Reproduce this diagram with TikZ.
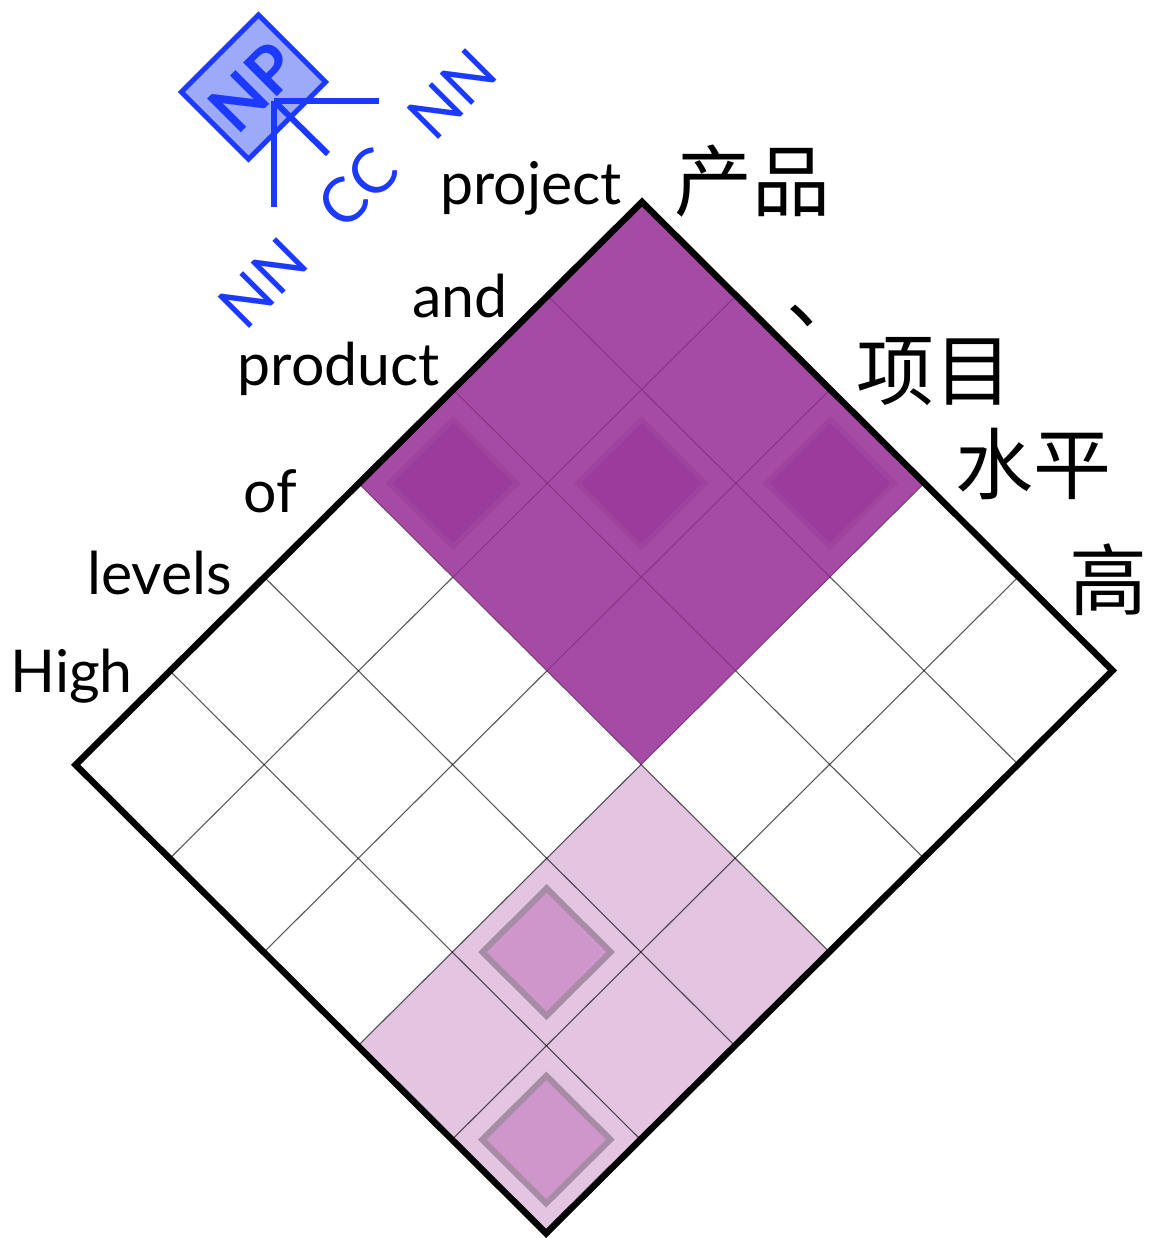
\documentclass[tikz,border=0pt]{standalone}
\usepackage{fontspec}
\newfontfamily\latin{Lato}
\newfontfamily\cjk{Noto Sans CJK SC}
\usetikzlibrary{calc}
\definecolor{treeblue}{RGB}{28,58,255}
\definecolor{npfill}{RGB}{157,170,250}
\definecolor{darkcell}{RGB}{151,44,149}
\definecolor{darkin}{RGB}{155,60,155}
\definecolor{darkinb}{RGB}{160,67,160}
\definecolor{lightcell}{RGB}{227,196,225}
\definecolor{lightin}{RGB}{206,150,203}
\definecolor{lightinb}{RGB}{168,140,166}
\newcommand\innerdia[5]{%
  \coordinate (cc) at ($(g#1#2)!0.5!(g#3#4)$);
  \draw[#5] ($(cc)!0.68!(g#1#2)$) -- ($(cc)!0.68!(g#3#2)$) -- ($(cc)!0.68!(g#3#4)$) -- ($(cc)!0.68!(g#1#4)$) -- cycle;}
\begin{document}
\begin{tikzpicture}[x=1pt,y=-1pt,
  enlabel/.style={font=\latin\fontsize{59}{62}\selectfont, anchor=base east, inner sep=0pt},
  zhlabel/.style={font=\cjk\fontsize{78}{80}\selectfont, inner sep=0pt},
  treelabel/.style={font=\latin\fontsize{62}{66}\selectfont, text=treeblue, rotate=45, inner sep=0pt},
  treeedge/.style={draw=treeblue, line width=6pt},
  npbox/.style={draw=treeblue, fill=npfill, line width=5pt, rotate=45, minimum width=109pt, minimum height=95pt, inner sep=0pt, font=\latin\bfseries\fontsize{66}{70}\selectfont, text=treeblue},
  darkbox/.style={fill=darkcell, fill opacity=0.85},
  lightbox/.style={fill=lightcell},
  darkmark/.style={fill=darkin, draw=darkinb, line width=5pt},
  lightmark/.style={fill=lightin, draw=lightinb, line width=6pt},
  gridline/.style={draw=black, line width=1.1pt, opacity=0.65},
  frame/.style={draw=black, line width=6.5pt, line join=miter},
]
\useasboundingbox (0,0) rectangle (1151,1238);
% grid points
\foreach \i in {0,...,6} {
  \foreach \j in {0,...,5} {
    \coordinate (g\i\j) at ({642-94.4*\i+94.1*\j},{202+93.8*\i+93.7*\j});
  }
}
% light block and its marks
\fill[lightbox] (g33) -- (g35) -- (g65) -- (g63) -- cycle;
\innerdia{4}{3}{5}{4}{lightmark}
\innerdia{5}{4}{6}{5}{lightmark}
% grid lines
\foreach \i in {1,...,5} { \draw[gridline] (g\i0) -- (g\i5); }
\foreach \j in {1,...,4} { \draw[gridline] (g0\j) -- (g6\j); }
% dark block (semi-transparent over the grid) and its marks
\fill[darkbox] (g00) -- (g03) -- (g33) -- (g30) -- cycle;
\innerdia{2}{0}{3}{1}{darkmark}
\innerdia{1}{1}{2}{2}{darkmark}
\innerdia{0}{2}{1}{3}{darkmark}
% frame
\draw[frame] (g00) -- (g05) -- (g65) -- (g60) -- cycle;
% English labels
\node[enlabel] (w0) at (622,205) {project};
\node[enlabel] (w1) at (508,317) {and};
\node[enlabel] (w2) at (440,385) {product};
\node[enlabel] (w3) at (297,512) {of};
\node[enlabel] (w4) at (232,594) {levels};
\node[enlabel] (w5) at (133,692) {High};
% Chinese labels
\node[zhlabel] (z0) at (752,181) {产品};
\node[zhlabel, anchor=west] (z1) at (786,316) {、};
\node[zhlabel] (z2) at (934,372) {项目};
\node[zhlabel] (z3) at (1033,464) {水平};
\node[zhlabel] (z4) at (1108,580) {高};
% tree
\node[npbox] (np) at (253.5,87) {NP};
\coordinate (J) at (274,101);
\coordinate (e1) at (379,101);
\coordinate (e2) at (328,154);
\coordinate (e3) at (274,207);
\draw[treeedge] (J) -- (e1);
\draw[treeedge] (J) -- (e2);
\draw[treeedge] (J) -- (e3);
\node[treelabel] (t1) at (452,94) {NN};
\node[treelabel] (t2) at (358,188) {CC};
\node[treelabel] (t3) at (263,283) {NN};
\end{tikzpicture}
\end{document}
